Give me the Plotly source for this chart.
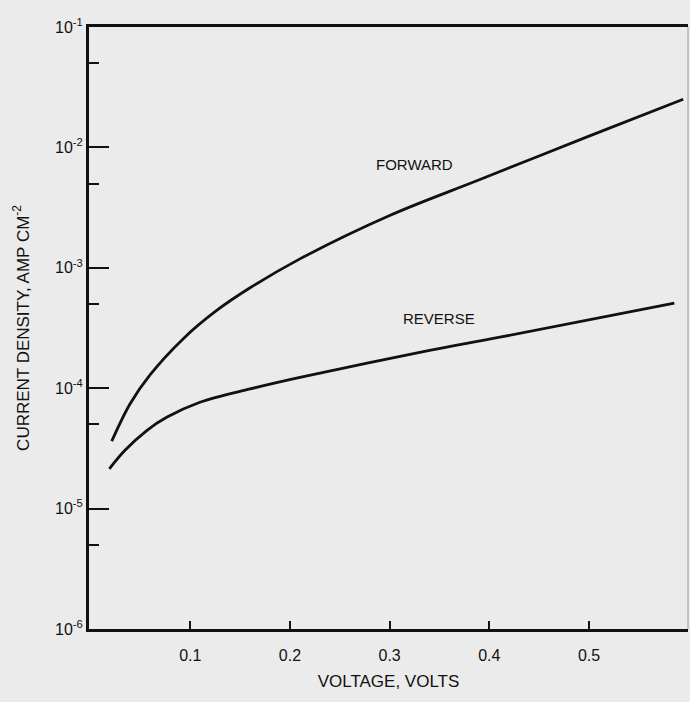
import plotly.graph_objects as go
import math

# Forward curve (voltage V, current density A/cm^2)
fwd_v = [0.0212, 0.0395, 0.0596, 0.093, 0.1265, 0.160, 0.210, 0.300, 0.3906, 0.500, 0.5945]
fwd_j = [3.63e-5, 7.4e-5, 1.29e-4, 2.58e-4, 4.42e-4, 6.82e-4, 1.186e-3, 2.72e-3, 5.41e-3, 1.24e-2, 2.51e-2]

# Reverse curve
rev_v = [0.0188, 0.0345, 0.0563, 0.0763, 0.1097, 0.160, 0.210, 0.340, 0.4106, 0.5856]
rev_j = [2.14e-5, 3.05e-5, 4.45e-5, 5.73e-5, 7.64e-5, 9.86e-5, 1.23e-4, 2.06e-4, 2.65e-4, 5.08e-4]

x_ticks = [0.1, 0.2, 0.3, 0.4, 0.5]
x_ticktext = ["0.1", "0.2", "0.3", "0.4", "0.5"]
y_ticks = [1e-6, 1e-5, 1e-4, 1e-3, 1e-2, 1e-1]
y_ticktext = ["10<sup>-6</sup>", "10<sup>-5</sup>", "10<sup>-4</sup>", "10<sup>-3</sup>",
              "10<sup>-2</sup>", "10<sup>-1</sup>"]
y_minor = [5e-6, 5e-5, 5e-4, 5e-3, 5e-2]

FONT = "Liberation Sans, Arial, sans-serif"
BG = "#ebebeb"

fig = go.Figure()
fig.add_trace(go.Scatter(x=fwd_v, y=fwd_j, mode="lines",
                         line=dict(color="#111111", width=2.8), line_shape="spline",
                         name="FORWARD", showlegend=False))
fig.add_trace(go.Scatter(x=rev_v, y=rev_j, mode="lines",
                         line=dict(color="#111111", width=2.8), line_shape="spline",
                         name="REVERSE", showlegend=False))

# label positions (log axis -> annotation y in log10 units)
fig.add_annotation(x=0.325, y=math.log10(7.2e-3), text="FORWARD",
                   showarrow=False, font=dict(family=FONT, size=15, color="#111"))
fig.add_annotation(x=0.350, y=math.log10(3.8e-4), text="REVERSE",
                   showarrow=False, font=dict(family=FONT, size=15, color="#111"))

# faint right border
fig.add_shape(type="line", xref="paper", yref="paper", x0=1, x1=1, y0=0, y1=1,
              line=dict(color="#999999", width=1))

fig.update_layout(
    width=690, height=702,
    margin=dict(l=89, r=2, t=27, b=73),
    paper_bgcolor=BG, plot_bgcolor=BG,
    font=dict(family=FONT, size=14, color="#111"),
    xaxis=dict(range=[-0.0016, 0.5993], tickvals=x_ticks, ticktext=x_ticktext,
               ticks="inside", ticklen=8, tickwidth=1.5, tickcolor="#111",
               showline=True, linecolor="#111", linewidth=3, mirror=True,
               showgrid=False, zeroline=False, ticklabelstandoff=10,
               tickfont=dict(family=FONT, size=16),
               title=dict(text="VOLTAGE, VOLTS", font=dict(family=FONT, size=17), standoff=12)),
    yaxis=dict(type="log", range=[-6, -1], tickvals=y_ticks, ticktext=y_ticktext,
               ticks="inside", ticklen=20, tickwidth=1.5, tickcolor="#111",
               showline=True, linecolor="#111", linewidth=3,
               showgrid=False, zeroline=False,
               tickfont=dict(family=FONT, size=16),
               minor=dict(tickmode="array", tickvals=y_minor, ticks="inside",
                          ticklen=10, tickwidth=1.5, tickcolor="#111", showgrid=False),
               title=dict(text="CURRENT DENSITY, AMP CM<sup>-2</sup>",
                          font=dict(family=FONT, size=17), standoff=22)),
)

fig.write_html("out.html")
